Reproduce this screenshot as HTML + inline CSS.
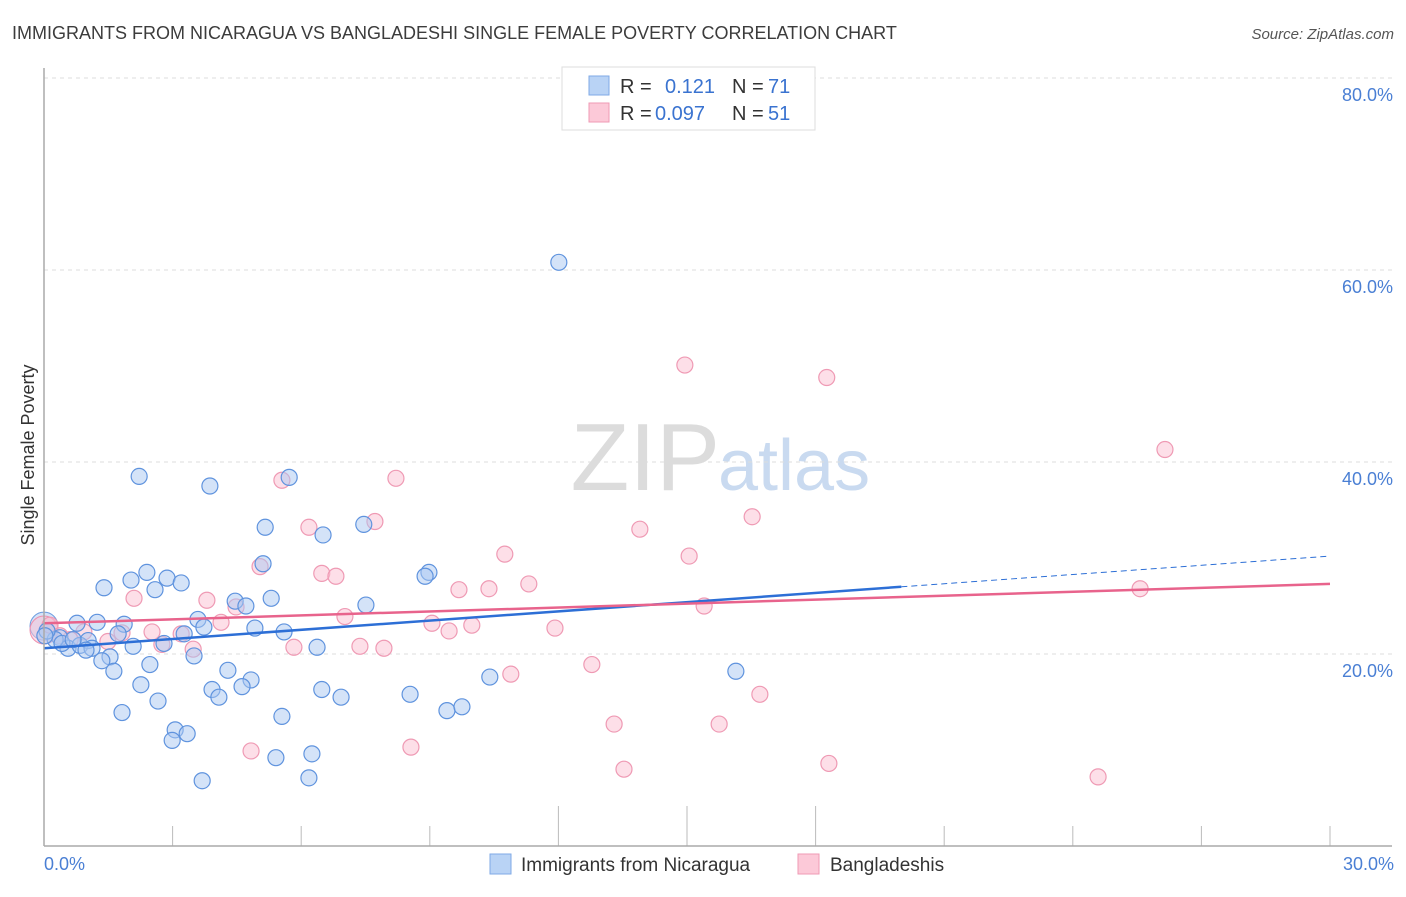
<!DOCTYPE html>
<html><head><meta charset="utf-8"><style>
body{margin:0;background:#fff;font-family:"Liberation Sans",sans-serif}
svg text{font-family:"Liberation Sans",sans-serif}
</style></head><body>
<svg id="chart" width="1406" height="892" xmlns="http://www.w3.org/2000/svg">
<text x="12" y="39" font-size="18" fill="#3c3c3c">IMMIGRANTS FROM NICARAGUA VS BANGLADESHI SINGLE FEMALE POVERTY CORRELATION CHART</text>
<text x="1394" y="39" font-size="15" font-style="italic" fill="#555" text-anchor="end">Source: ZipAtlas.com</text>
<text x="720" y="490" font-size="96" text-anchor="end" fill="#dcdcdc" font-family="Liberation Serif">ZIP</text>
<text x="718" y="490" font-size="72" fill="#c9daf0">atlas</text>
<text transform="translate(34,455) rotate(-90)" font-size="18" fill="#333" text-anchor="middle">Single Female Poverty</text>
<g id="grid"></g><g id="ticks"></g><g id="pts"></g><g id="lines"></g>
<line x1="44" y1="68" x2="44" y2="846" stroke="#aaa" stroke-width="1.5"/>
<line x1="44" y1="846" x2="1392" y2="846" stroke="#aaa" stroke-width="1.5"/>
<g>
<rect x="562" y="67" width="253" height="63" fill="#fff" stroke="#ddd"/>
<rect x="589" y="76" width="20" height="19" fill="#b9d3f5" stroke="#7fa9e6"/>
<rect x="589" y="103" width="20" height="19" fill="#fcc9d8" stroke="#ef9ab4"/>
<text x="620" y="93" font-size="20" fill="#333">R = </text><text x="665" y="93" font-size="20" fill="#3a73d0">0.121</text>
<text x="732" y="93" font-size="20" fill="#333">N = </text><text x="768" y="93" font-size="20" fill="#3a73d0">71</text>
<text x="620" y="120" font-size="20" fill="#333">R = </text><text x="655" y="120" font-size="20" fill="#3a73d0">0.097</text>
<text x="732" y="120" font-size="20" fill="#333">N = </text><text x="768" y="120" font-size="20" fill="#3a73d0">51</text>
</g>
<g>
<rect x="490" y="854" width="21" height="20" fill="#b9d3f5" stroke="#7fa9e6"/>
<text x="521" y="871" font-size="19" fill="#333">Immigrants from Nicaragua</text>
<rect x="798" y="854" width="21" height="20" fill="#fcc9d8" stroke="#ef9ab4"/>
<text x="830" y="871" font-size="19" fill="#333">Bangladeshis</text>
</g>
<text x="44" y="870" font-size="18" fill="#4a7fd4">0.0%</text>
<text x="1394" y="870" font-size="18" fill="#4a7fd4" text-anchor="end">30.0%</text>
</svg>
<script>
const blueX=[12.01,2.22,5.72,3.87,5.16,6.51,7.46,5.11,8.98,8.89,2.40,2.87,2.03,1.40,2.59,3.20,4.46,4.71,5.30,7.51,3.59,3.73,1.24,1.87,0.77,1.73,3.27,4.92,5.60,6.37,2.08,2.80,1.54,3.50,1.35,2.47,1.63,4.29,4.83,10.40,16.14,2.26,3.92,4.62,6.48,6.93,8.54,4.08,2.66,1.82,5.55,9.40,9.75,3.06,3.34,2.99,6.25,5.41,3.69,6.18,0.37,0.56,0.26,0.84,1.03,1.12,0.07,0.02,0.42,0.68,0.98];
const blueY=[60.8,38.5,38.4,37.5,33.2,32.4,33.5,29.4,28.5,28.1,28.5,27.9,27.7,26.9,26.7,27.4,25.5,25.0,25.8,25.1,23.6,22.8,23.3,23.1,23.2,22.1,22.1,22.7,22.3,20.7,20.8,21.1,19.7,19.8,19.3,18.9,18.2,18.3,17.3,17.6,18.2,16.8,16.3,16.6,16.3,15.5,15.8,15.5,15.1,13.9,13.5,14.1,14.5,12.1,11.7,11.0,9.6,9.2,6.8,7.1,21.7,20.6,21.5,20.9,21.4,20.6,22.4,21.9,21.1,21.5,20.4];
const pinkX=[14.95,18.26,26.15,5.55,8.21,7.72,6.18,13.90,16.52,10.75,15.05,5.04,6.48,6.81,11.31,9.68,10.38,2.10,3.80,4.48,4.13,7.02,9.05,9.45,9.98,11.92,15.40,25.57,2.52,3.20,1.82,1.49,2.75,3.48,5.83,7.37,7.93,12.78,10.89,16.70,13.30,15.75,4.83,8.56,13.53,18.31,24.59,0.14,0.61,0.37,0.93];
const pinkY=[50.1,48.8,41.3,38.1,38.3,33.8,33.2,33.0,34.3,30.4,30.2,29.1,28.4,28.1,27.3,26.7,26.8,25.8,25.6,24.9,23.3,23.9,23.2,22.4,23.0,22.7,25.0,26.8,22.3,22.1,22.2,21.3,21.0,20.5,20.7,20.8,20.6,18.9,17.9,15.8,12.7,12.7,9.9,10.3,8.0,8.6,7.2,23.0,21.5,21.9,22.3];
const yTicks=[20,40,60,80];
const xTicks=[0,3,6,9,12,15,18,21,24,27,30];
const blueTrend=[20.6,30.2];
const pinkTrend=[23.2,27.3];
const blueSolidEnd=20;
const NS="http://www.w3.org/2000/svg";
const sx=v=>44+v*1286/30, sy=v=>846-v*9.6;
function mk(t,a,p){const e=document.createElementNS(NS,t);for(const k in a)e.setAttribute(k,a[k]);p.appendChild(e);return e;}
const grid=document.getElementById('grid'),ticks=document.getElementById('ticks'),pts=document.getElementById('pts'),lines=document.getElementById('lines');
yTicks.forEach(v=>{
 const l=mk('line',{x1:44,x2:1392,y1:sy(v),y2:sy(v),stroke:'#ddd','stroke-dasharray':'4,4'},grid);
 
 
 const t=mk('text',{x:1393,y:sy(v)+23,'font-size':18,fill:'#4a7fd4','text-anchor':'end'},grid);
 t.textContent=v.toFixed(1)+'%';
 
 
});
xTicks.forEach((v,i)=>{
 const tall=(i>=4&&i<=6);
 const l=mk('line',{x1:sx(v),x2:sx(v),y1:tall?806:826,y2:846,stroke:'#bbb'},ticks);
 
 
});
function big(cx,cy,f,s){const c=mk('circle',{cx:cx,cy:cy,r:14,fill:f,'fill-opacity':0.5,stroke:s},pts);
 
 }
big(sx(0),sy(22.9),'#a9c8f2','#6c9ce0');big(sx(0),sy(22.5),'#fbc0d1','#ee8fad');
function dots(X,Y,f,s,name){X.forEach((x,i)=>{
 const c=mk('circle',{cx:sx(x),cy:sy(Y[i]),r:8,fill:f,'fill-opacity':0.5,stroke:s,'stroke-width':1.2},pts);
 
 
});}
dots(pinkX,pinkY,'#fbc0d1','#ef9ab4','bangladeshi-point');
dots(blueX,blueY,'#a9c8f2','#5f93de','nicaragua-point');
const bAt=x=>blueTrend[0]+(blueTrend[1]-blueTrend[0])*x/30;
let l=mk('line',{x1:sx(0),y1:sy(bAt(0)),x2:sx(blueSolidEnd),y2:sy(bAt(blueSolidEnd)),stroke:'#2d6fd6','stroke-width':2.5},lines);


l=mk('line',{x1:sx(blueSolidEnd),y1:sy(bAt(blueSolidEnd)),x2:sx(30),y2:sy(bAt(30)),stroke:'#2d6fd6','stroke-width':1,'stroke-dasharray':'6,4'},lines);


l=mk('line',{x1:sx(0),y1:sy(pinkTrend[0]),x2:sx(30),y2:sy(pinkTrend[1]),stroke:'#e8638c','stroke-width':2.5},lines);


</script>
</body></html>
